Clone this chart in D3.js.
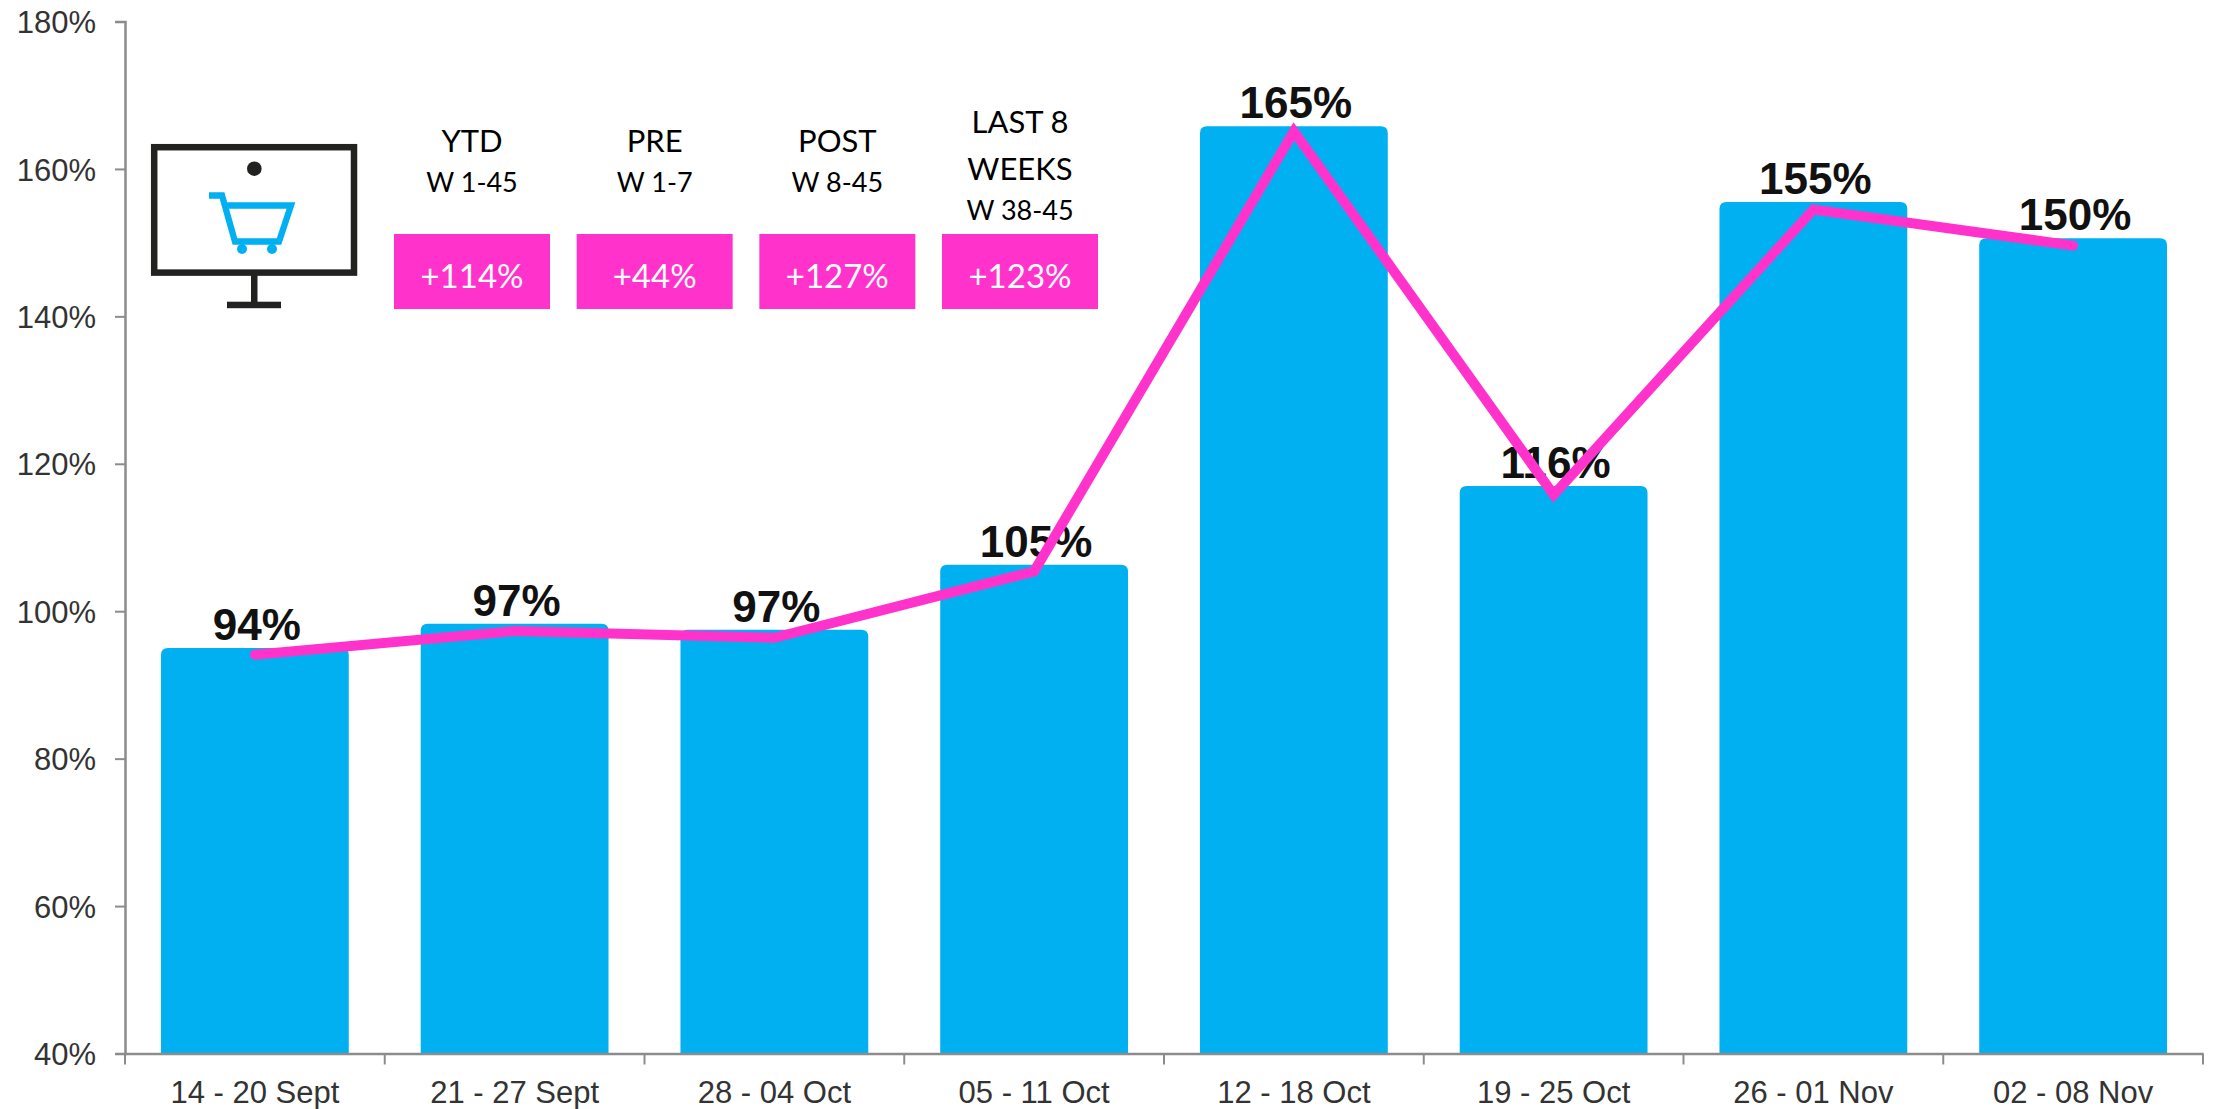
<!DOCTYPE html>
<html><head><meta charset="utf-8">
<script src="https://cdn.jsdelivr.net/npm/d3@7"></script>
<style>html,body{margin:0;padding:0;background:#fff}svg{display:block}</style>
</head><body><svg id="c" width="2218" height="1109"></svg>
<script>
const categories = ["14 - 20 Sept","21 - 27 Sept","28 - 04 Oct","05 - 11 Oct","12 - 18 Oct","19 - 25 Oct","26 - 01 Nov","02 - 08 Nov"];
const barValues = [95, 98.3, 97.5, 106.3, 165.8, 117, 155.5, 150.6];
const lineValues = [94.1, 97.3, 96.4, 105.4, 165.1, 115.8, 154.5, 149.6];
const barLabels = ["94%","97%","97%","105%","165%","116%","155%","150%"];
const yTicks = [40,60,80,100,120,140,160,180];
const kpiTitles = [["YTD"],["PRE"],["POST"],["LAST 8","WEEKS"]];
const kpiWeeks = ["W 1-45","W 1-7","W 8-45","W 38-45"];
const kpiValues = ["+114%","+44%","+127%","+123%"];

const BLUE="#00b0f0", PINK="#ff33cc", DARK="#222221", AXIS="#8c8c8c", TXT="#333";
const svg=d3.select("#c");
const x=d3.scaleBand().domain(categories).range([125,2203]).paddingInner(.277).paddingOuter(.1385);
const y=d3.scaleLinear().domain([40,180]).range([1053.5,21.5]);
const arial='"Liberation Sans",Arial,sans-serif';

// bars with rounded top corners
const r=7;
svg.append("g").selectAll("path").data(barValues).join("path")
  .attr("fill",BLUE)
  .attr("d",(d,i)=>{const a=x(categories[i]),b=a+x.bandwidth(),t=y(d),B=y(40);
    return `M${a},${B}V${t+r}Q${a},${t} ${a+r},${t}H${b-r}Q${b},${t} ${b},${t+r}V${B}Z`;});

// axes
const gy=svg.append("g").attr("transform","translate(125,0)")
  .call(d3.axisLeft(y).tickValues(yTicks).tickSize(10).tickPadding(19).tickFormat(d=>d+"%"));
const gx=svg.append("g").attr("transform",`translate(0,${y(40)})`)
  .call(d3.axisBottom(x).tickSize(0).tickPadding(32));
[gy,gx].forEach(g=>{
  g.selectAll("path.domain").attr("stroke",AXIS).attr("stroke-width",2.5);
  g.selectAll("line").attr("stroke",AXIS).attr("stroke-width",2);
  g.selectAll("text").attr("font-family",arial).attr("font-size",31).attr("fill",TXT);
});
gy.selectAll("text").attr("dy","0.36em");
gx.selectAll("text").attr("dy","0.55em");
// tick marks between the categories
gx.append("g").selectAll("line").data(d3.range(categories.length+1)).join("line")
  .attr("x1",i=>i<categories.length?x(categories[i])-x.step()*.1385:x.range()[1])
  .attr("x2",i=>i<categories.length?x(categories[i])-x.step()*.1385:x.range()[1])
  .attr("y1",0).attr("y2",11).attr("stroke",AXIS).attr("stroke-width",2);

// data labels
svg.append("g").selectAll("text").data(barLabels).join("text")
  .attr("x",(d,i)=>x(categories[i])+x.bandwidth()/2+2)
  .attr("y",(d,i)=>y(barValues[i])-8)
  .attr("text-anchor","middle").attr("font-family",arial).attr("font-weight",700)
  .attr("font-size",44).attr("fill","#111").text(d=>d);

// line
const line=d3.line().x((d,i)=>x(categories[i])+x.bandwidth()/2).y(d=>y(d));
svg.append("path").datum(lineValues).attr("d",line).attr("fill","none")
  .attr("stroke",PINK).attr("stroke-width",10).attr("stroke-linejoin","miter").attr("stroke-linecap","round");

// KPI panel
const kx=d3.scalePoint().domain(kpiValues).range([472,1020]);
const k=svg.append("g").attr("font-family","Lato,sans-serif").attr("text-anchor","middle");
kpiValues.forEach((v,i)=>{
  const cx=kx(v), g=k.append("g");
  g.append("rect").attr("x",cx-78).attr("y",234).attr("width",156).attr("height",75).attr("fill",PINK);
  g.append("text").attr("x",cx).attr("y",288).attr("font-size",33).attr("fill","#fff").text(v);
  const t=kpiTitles[i];
  if(t.length===1){
    g.append("text").attr("x",cx).attr("y",152).attr("font-size",31).attr("fill","#000").text(t[0]);
    g.append("text").attr("x",cx).attr("y",192).attr("font-size",27).attr("fill","#000").text(kpiWeeks[i]);
  } else {
    g.append("text").attr("x",cx).attr("y",133).attr("font-size",31).attr("fill","#000").text(t[0]);
    g.append("text").attr("x",cx).attr("y",180).attr("font-size",31).attr("fill","#000").text(t[1]);
    g.append("text").attr("x",cx).attr("y",220).attr("font-size",27).attr("fill","#000").text(kpiWeeks[i]);
  }
});

// monitor + cart icon
const ic=svg.append("g");
ic.append("rect").attr("x",154.2).attr("y",147.2).attr("width",199.8).attr("height",125.4).attr("fill","#fff").attr("stroke",DARK).attr("stroke-width",6.5);
ic.append("circle").attr("cx",254.3).attr("cy",168.7).attr("r",7.3).attr("fill",DARK);
ic.append("rect").attr("x",251).attr("y",275).attr("width",6.5).attr("height",28).attr("fill",DARK);
ic.append("rect").attr("x",227).attr("y",301.7).attr("width",54).attr("height",6.5).attr("fill",DARK);
ic.append("path").attr("fill","none").attr("stroke",BLUE).attr("stroke-width",6.3)
  .attr("d","M209,195.5H222L235,241.5H279L291,205.5H225");
ic.append("circle").attr("cx",242).attr("cy",249).attr("r",5).attr("fill",BLUE);
ic.append("circle").attr("cx",272).attr("cy",249).attr("r",5).attr("fill",BLUE);
</script></body></html>
